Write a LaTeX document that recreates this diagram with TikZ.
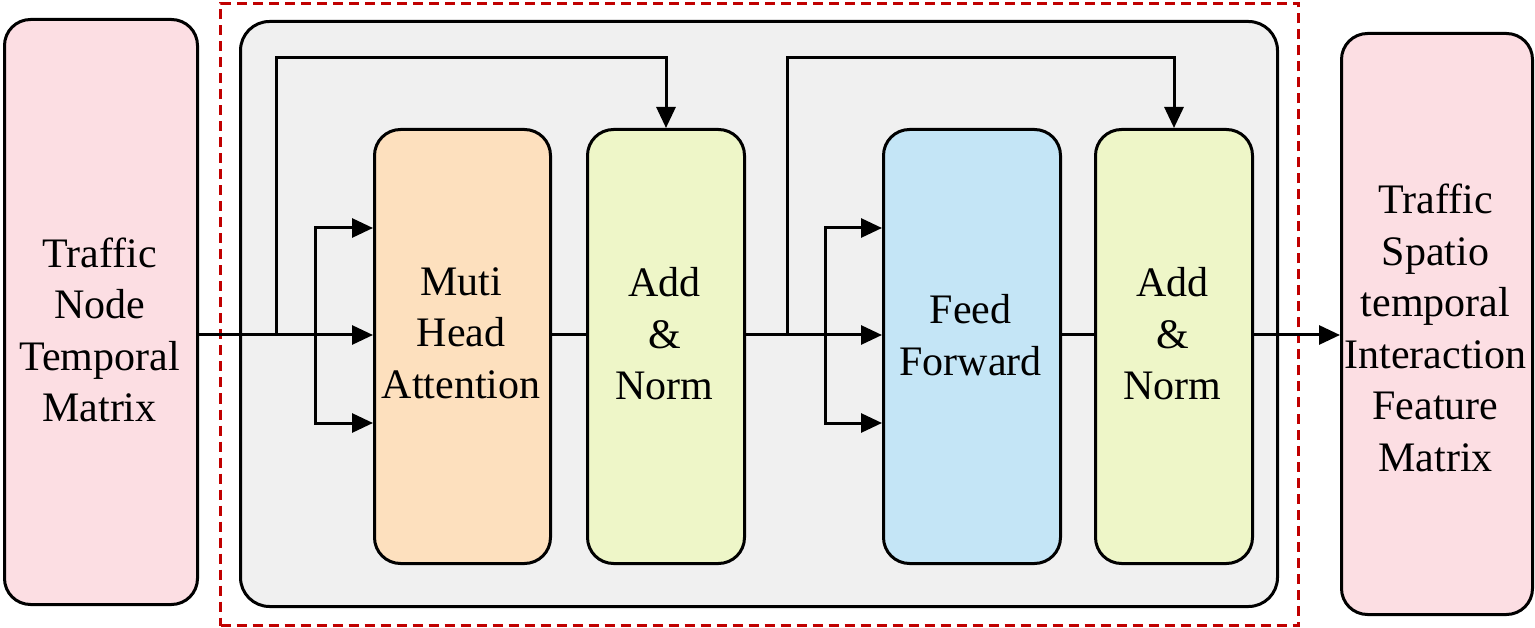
\documentclass[tikz,border=0pt]{standalone}
\usepackage{fontspec}
\setmainfont{Liberation Serif}
\newfontfamily\tnr{Liberation Serif}
\usetikzlibrary{arrows.meta}
\definecolor{pinkfill}{HTML}{FCDEE3}
\definecolor{grayfill}{HTML}{F0F0F0}
\definecolor{peach}{HTML}{FDE0BE}
\definecolor{lime}{HTML}{EEF6C8}
\definecolor{skyb}{HTML}{C4E5F6}
\definecolor{darkred}{HTML}{C00000}
\tikzset{
  blk/.style={draw=black, line width=3pt, rounded corners=26pt, anchor=north west, inner sep=0pt},
  lbl/.style={align=center, font=\tnr\fontsize{42}{51.5}\selectfont, inner sep=0pt},
  conn/.style={draw=black, line width=3pt},
  arr/.style={conn, -{Triangle[length=21pt,width=19pt]}},
}
\begin{document}
\begin{tikzpicture}[x=1pt,y=-1pt]
\useasboundingbox (0,0) rectangle (1535,628);
% red dashed frame
\node[draw=darkred, line width=3pt, dash pattern=on 10pt off 6pt, anchor=north west, minimum width=1078pt, minimum height=622pt, inner sep=0pt] (frame) at (219,2) {};
% gray container
\node[blk, fill=grayfill, rounded corners=29pt, minimum width=1037pt, minimum height=585pt] (enc) at (239,20) {};
% boxes
\node[blk, fill=pinkfill, minimum width=193pt, minimum height=585pt] (in) at (3,18) {};
\node[blk, fill=peach, minimum width=176pt, minimum height=434pt] (mha) at (373,128) {};
\node[blk, fill=lime, minimum width=157pt, minimum height=434pt] (an1) at (586,128) {};
\node[blk, fill=skyb, minimum width=177pt, minimum height=434pt] (ff) at (882,128) {};
\node[blk, fill=lime, minimum width=157pt, minimum height=434pt] (an2) at (1094,128) {};
\node[blk, fill=pinkfill, minimum width=191pt, minimum height=581pt] (out) at (1340,32) {};
% labels
\node[lbl] (tin) at (99.5,330) {Traffic\\Node\\Temporal\\Matrix};
\node[lbl] (tmha) at (461,333) {Muti\\Head\\Attention};
\node[lbl] (tan1) at (664.5,334) {Add\\\&\\Norm};
\node[lbl] (tff) at (970.5,335) {Feed\\Forward};
\node[lbl] (tan2) at (1172.5,334) {Add\\\&\\Norm};
\node[lbl] (tout) at (1435.5,328) {Traffic\\Spatio\\temporal\\Interaction\\Feature\\Matrix};
% coordinates
\coordinate (m) at (0,335);
\coordinate (s1) at (276,335);
\coordinate (b1) at (315,335);
\coordinate (s2) at (787,335);
\coordinate (b2) at (825,335);
\coordinate (top) at (0,58);
\coordinate (hi) at (0,228);
\coordinate (lo) at (0,423);
% main flow
\draw[arr] (in.east |- m) -- (mha.west |- m);
\draw[arr] (b1) -- (b1 |- hi) -- (mha.west |- hi);
\draw[arr] (b1) -- (b1 |- lo) -- (mha.west |- lo);
\draw[arr] (s1) -- (s1 |- top) -- (an1.north |- top) -- (an1.north);
\draw[conn] (mha.east |- m) -- (an1.west |- m);
\draw[arr] (an1.east |- m) -- (ff.west |- m);
\draw[arr] (b2) -- (b2 |- hi) -- (ff.west |- hi);
\draw[arr] (b2) -- (b2 |- lo) -- (ff.west |- lo);
\draw[arr] (s2) -- (s2 |- top) -- (an2.north |- top) -- (an2.north);
\draw[conn] (ff.east |- m) -- (an2.west |- m);
\draw[arr] (an2.east |- m) -- (out.west |- m);
\end{tikzpicture}
\end{document}
